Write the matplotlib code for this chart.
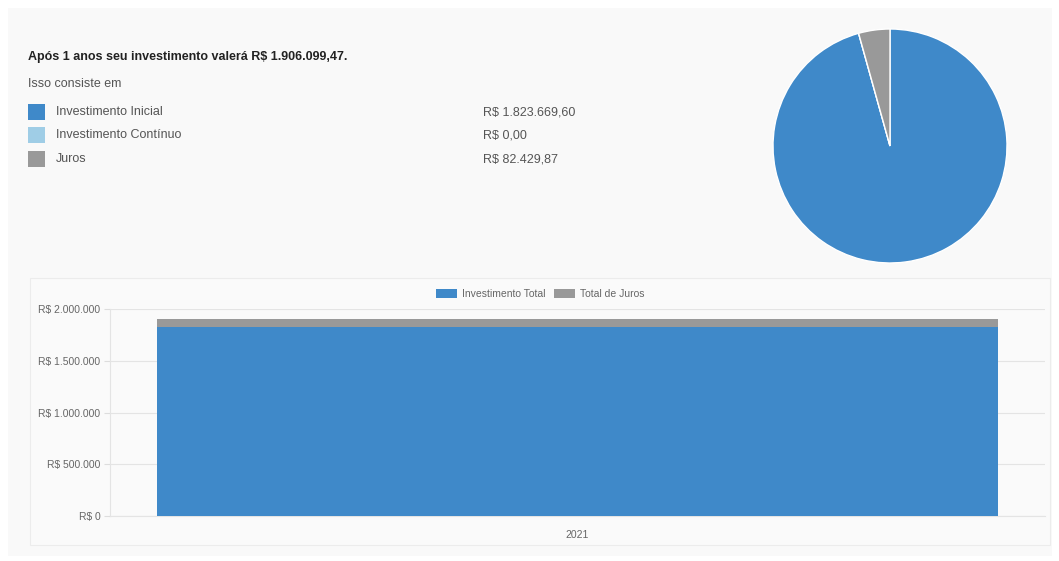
import matplotlib.pyplot as plt
from matplotlib.patches import Rectangle, Patch

plt.rcParams['font.family'] = ['Liberation Sans', 'DejaVu Sans']

# data
titulo = 'Após 1 anos seu investimento valerá R$ 1.906.099,47.'
componentes = ['Investimento Inicial', 'Investimento Contínuo', 'Juros']
valores = [1823669.60, 0.00, 82429.87]
valores_txt = ['R$ 1.823.669,60', 'R$ 0,00', 'R$ 82.429,87']
cores = ['#3f89c9', '#9fcde6', '#999999']

anos = ['2021']
invest_total = [1823669.60]
total_juros = [82429.87]
yticks = [0, 500000, 1000000, 1500000, 2000000]

W, H = 1059, 561
fig = plt.figure(figsize=(W / 100, H / 100), dpi=100)
fig.patch.set_facecolor('white')


def fx(px):
    return px / W


def fy(py):
    return 1 - py / H


# background panels
fig.patches.append(Rectangle((fx(8), fy(556)), fx(1044), 548 / H, transform=fig.transFigure,
                             facecolor='#f9f9f9', edgecolor='none', zorder=-10))
fig.patches.append(Rectangle((fx(30), fy(545)), fx(1020), 267 / H, transform=fig.transFigure,
                             facecolor='#fafafa', edgecolor='#ececec', lw=0.8, zorder=-9))

# header text
fig.text(fx(28), fy(57), titulo, fontsize=9, fontweight='bold', color='#222222', va='center')
fig.text(fx(28), fy(84), 'Isso consiste em', fontsize=9, color='#555555', va='center')
row_y = [112, 135, 159]
for nome, txt, cor, y in zip(componentes, valores_txt, cores, row_y):
    fig.patches.append(Rectangle((fx(28), fy(y + 8)), fx(17), 16 / H, transform=fig.transFigure,
                                 facecolor=cor, edgecolor='none'))
    fig.text(fx(56), fy(y), nome, fontsize=9, color='#555555', va='center')
    fig.text(fx(483), fy(y), txt, fontsize=9, color='#555555', va='center')

# pie
axp = fig.add_axes([fx(773), fy(263), 234 / W, 234 / H])
axp.pie(valores, colors=cores, startangle=90, counterclock=False, radius=1,
        wedgeprops=dict(edgecolor='white', linewidth=1))
axp.set_xlim(-1, 1)
axp.set_ylim(-1, 1)
axp.axis('off')

# stacked bar
ax = fig.add_axes([fx(110), fy(516), 935 / W, 207 / H])
ax.set_facecolor('#fafafa')
x = range(len(anos))
ax.bar(x, invest_total, width=0.9, color=cores[0], zorder=3)
ax.bar(x, total_juros, bottom=invest_total, width=0.9, color=cores[2], zorder=3)
ax.set_xlim(-0.5, 0.5)
ax.set_ylim(0, 2000000)
ax.set_yticks(yticks)
ax.set_yticklabels(['R$ ' + f'{v:,}'.replace(',', '.') for v in yticks])
ax.set_xticks(list(x))
ax.set_xticklabels(anos)
ax.tick_params(axis='y', length=4, color='#dddddd', labelsize=7.5, labelcolor='#666666', pad=3)
ax.tick_params(axis='x', length=0, labelsize=7.5, labelcolor='#666666', pad=10)
ax.grid(axis='y', color='#e4e4e4', lw=0.8, zorder=0)
for s in ['top', 'right']:
    ax.spines[s].set_visible(False)
ax.spines['left'].set_color('#e4e4e4')
ax.spines['bottom'].set_color('#e4e4e4')

handles = [Patch(facecolor=cores[0], label='Investimento Total'),
           Patch(facecolor=cores[2], label='Total de Juros')]
fig.legend(handles=handles, loc='center', bbox_to_anchor=(fx(540), fy(294)), ncol=2, frameon=False,
           fontsize=7.5, labelcolor='#666666', handlelength=2.0, handleheight=1.0,
           handletextpad=0.5, columnspacing=0.8)

fig.savefig('out.png', dpi=100, facecolor=fig.get_facecolor())
